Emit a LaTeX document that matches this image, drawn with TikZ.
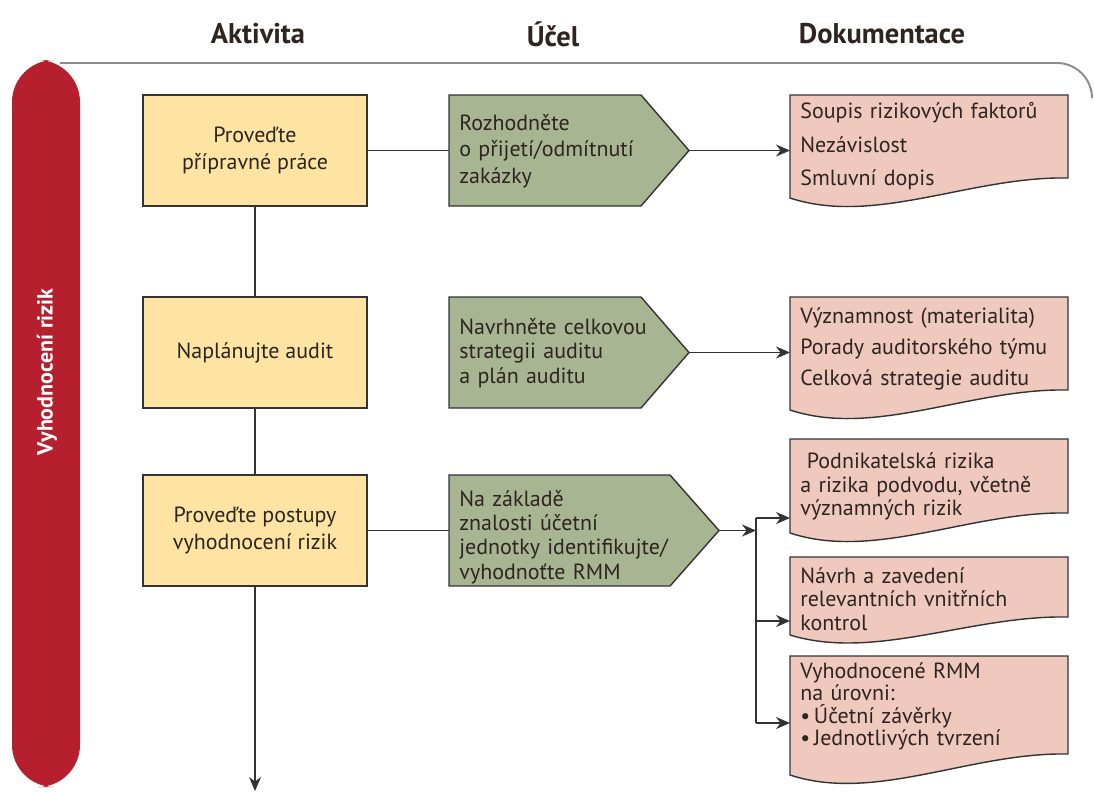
\documentclass[tikz,border=0pt]{standalone}
\usepackage{fontspec}
\setmainfont{PT Sans}
\usetikzlibrary{arrows.meta}
\definecolor{rizred}{HTML}{B51F2E}
\definecolor{aktfill}{HTML}{FDE4A3}
\definecolor{ucelfill}{HTML}{A8B593}
\definecolor{dokfill}{HTML}{EFC8BE}
\definecolor{rizline}{HTML}{333333}
\definecolor{rizframe}{HTML}{8C8C8C}
\definecolor{riztext}{HTML}{2E2420}
\tikzset{
  akt/.style={draw=rizline, line width=0.8pt, fill=aktfill, minimum width=4.48cm, minimum height=2.22cm, align=center, text=riztext, font=\fontsize{12.5}{15.5}\selectfont},
  ucel/.style={anchor=west, align=left, text width=4.4cm, inner xsep=0.2cm, inner ysep=0pt, text=riztext, font=\fontsize{12.5}{13.8}\selectfont},
  dok/.style={anchor=west, align=left, text width=5.2cm, inner xsep=0.2cm, inner ysep=0pt, text=riztext, font=\fontsize{12.5}{13.4}\selectfont},
  ucelshape/.style={draw=rizline, line width=0.8pt, fill=ucelfill},
  dokshape/.style={draw=rizline, line width=0.8pt, fill=dokfill},
  spoj/.style={draw=rizline, line width=0.8pt},
  sipka/.style={spoj, -{Stealth[length=2.8mm,width=2.4mm]}},
  hlava/.style={font=\fontsize{16.2}{19}\selectfont\bfseries, text=riztext}
}
\begin{document}
\begin{tikzpicture}[x=0.02cm,y=-0.02cm]
	\fill[white] (0,0) rectangle (1094,792);
	\useasboundingbox (0,0) rectangle (1094,792);

	\node[hlava] (hakt) at (258,34) {Aktivita};
	\node[hlava] (hucel) at (553,34) {Účel};
	\node[hlava] (hdok) at (882,34) {Dokumentace};

	\draw[rizframe, line width=1.1pt, rounded corners=20] (60,63) -- (1092,63) -- (1092,95);
	\fill[rizred, rounded corners=24] (12,60) rectangle (80,787);
	\node[rotate=90, text=white, font=\fontsize{12.5}{15}\selectfont\bfseries] (faze) at (47,372) {Vyhodnocení rizik};

	\node[akt] (akt1) at (255,150.5) {Proveďte\\přípravné práce};
	\node[akt] (akt2) at (255,352.5) {Naplánujte audit};
	\node[akt] (akt3) at (255,530.5) {Proveďte postupy\\vyhodnocení rizik};

	\filldraw[ucelshape] (449,95) -- (641,95) -- (689,150.5) -- (641,206) -- (449,206) -- cycle;
	\filldraw[ucelshape] (449,297) -- (641,297) -- (689,352.5) -- (641,408) -- (449,408) -- cycle;
	\filldraw[ucelshape] (449,475) -- (670,475) -- (719,530.5) -- (670,586) -- (449,586) -- cycle;
	\coordinate (hrot1) at (689,150.5);
	\coordinate (hrot2) at (689,352.5);
	\coordinate (hrot3) at (719,530.5);

	\node[ucel, font=\fontsize{12.5}{15}\selectfont] (ucel1) at (449,151) {Rozhodněte\\o přijetí/odmítnutí\\zakázky};
	\node[ucel] (ucel2) at (449,353) {Navrhněte celkovou\\strategii auditu\\a plán auditu};
	\node[ucel] (ucel3) at (449,537) {Na základě\\znalosti účetní\\jednotky identifikujte/\\vyhodnoťte RMM};

	\filldraw[dokshape] (790,95) -- (1068,95) -- (1068,178) .. controls +(-97,-2) and +(85,28) .. (790,198) -- cycle;
	\filldraw[dokshape] (790,297) -- (1068,297) -- (1068,390) .. controls +(-97,-2) and +(85,28) .. (790,410) -- cycle;
	\filldraw[dokshape] (790,439) -- (1068,439) -- (1068,513) .. controls +(-97,-2) and +(85,28) .. (790,533) -- cycle;
	\filldraw[dokshape] (790,557) -- (1068,557) -- (1068,617) .. controls +(-97,-2) and +(85,26) .. (790,635) -- cycle;
	\filldraw[dokshape] (790,656) -- (1068,656) -- (1068,754) .. controls +(-97,-2) and +(85,28) .. (790,775) -- cycle;

	\node[dok, font=\fontsize{12.5}{19}\selectfont] (dok1) at (790,146.5) {Soupis rizikových faktorů\\Nezávislost\\Smluvní dopis};
	\node[dok, font=\fontsize{12.5}{17.8}\selectfont] (dok2) at (790,349) {Významnost (materialita)\\Porady auditorského týmu\\Celková strategie auditu};
	\node[dok] (dok3) at (790,486.5) {\hspace{0.3em}Podnikatelská rizika\\a rizika podvodu, včetně\\významných rizik};
	\node[dok] (dok4) at (790,599) {Návrh a zavedení\\relevantních vnitřních\\kontrol};
	\node[dok, font=\fontsize{12.5}{12.8}\selectfont] (dok5) at (790,706.5) {Vyhodnocené RMM\\na úrovni:\\•\,Účetní závěrky\\•\,Jednotlivých tvrzení};

	\coordinate (konec) at (255,791);
	\draw[spoj] (akt1) -- (akt2);
	\draw[spoj] (akt2) -- (akt3);
	\draw[sipka] (akt3) -- (konec);

	\draw[spoj] (akt1.east) -- (akt1.east -| ucel1.west);
	\draw[spoj] (akt3.east) -- (akt3.east -| ucel3.west);

	\draw[sipka] (hrot1) -- (hrot1 -| dok1.west);
	\draw[sipka] (hrot2) -- (hrot2 -| dok2.west);

	\coordinate (rozc) at (756,530.5);
	\coordinate (vet3) at (756,518);
	\coordinate (vet4) at (756,621);
	\coordinate (vet5) at (756,723);
	\draw[sipka] (hrot3) -- (rozc);
	\draw[spoj] (vet3) -- (vet5);
	\foreach \i in {3,4,5}
		\draw[sipka] (vet\i) -- (vet\i -| dok\i.west);
\end{tikzpicture}
\end{document}
